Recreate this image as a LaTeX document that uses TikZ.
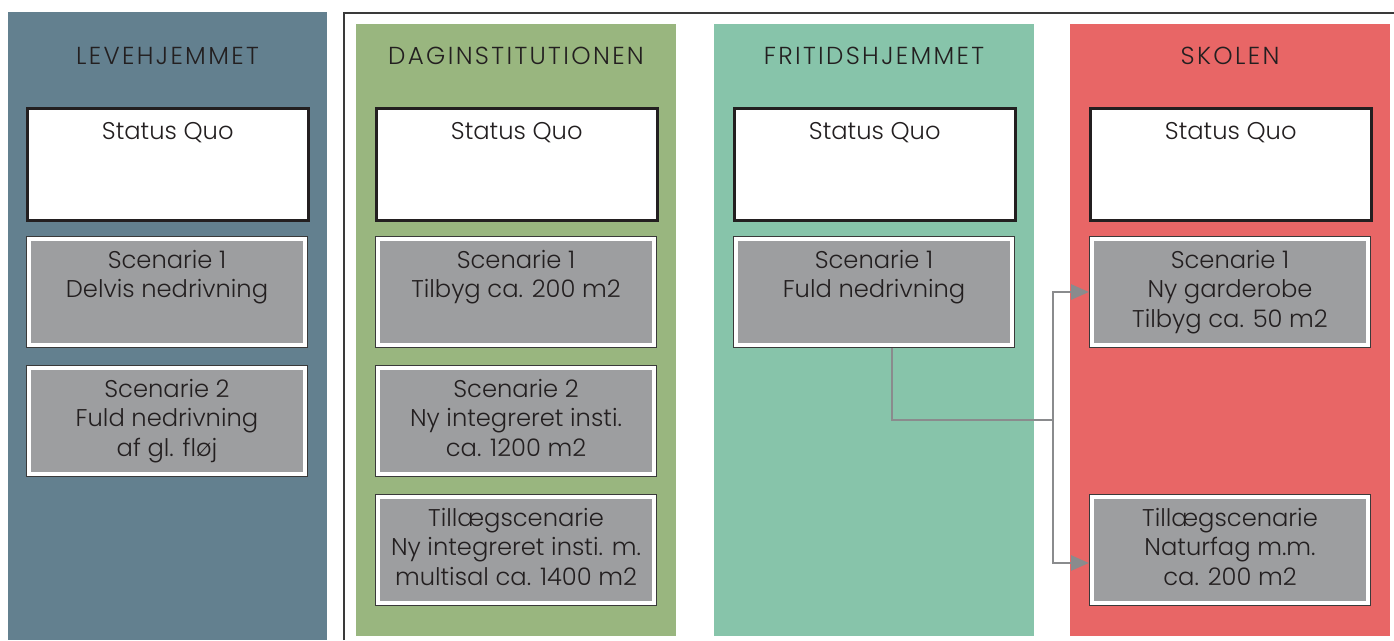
\documentclass[tikz,border=0pt]{standalone}
\usepackage{fontspec}
\IfFontExistsTF{Poppins Light}{\setmainfont{Poppins Light}}{\setmainfont{Poppins}}
\usetikzlibrary{arrows.meta}
\definecolor{ink}{HTML}{231F20}
\definecolor{frame}{HTML}{3A3A3A}
\definecolor{colslate}{HTML}{63808F}
\definecolor{colgreen}{HTML}{99B67F}
\definecolor{colteal}{HTML}{87C4AA}
\definecolor{colred}{HTML}{E86666}
\definecolor{boxgray}{HTML}{9D9EA0}
\definecolor{linkgray}{HTML}{8A8B8D}
\newcommand\boxlines[1]{\begin{tabular}[t]{@{}c@{}}#1\end{tabular}}
\tikzset{
  quo/.style={draw=ink, line width=2.5pt, fill=white, anchor=north west,
    minimum width=281pt, minimum height=112pt, inner sep=0pt},
  scen/.style={draw=frame, line width=1pt, fill=white, anchor=north west,
    minimum width=281pt, minimum height=111pt, inner sep=0pt,
    path picture={\fill[boxgray]
      ([shift={(4.5pt,-4.5pt)}]path picture bounding box.north west) rectangle
      ([shift={(-4.5pt,4.5pt)}]path picture bounding box.south east);}},
  txt/.style={anchor=base, inner sep=0pt, text=ink,
    font=\fontsize{24.2}{29.5}\selectfont},
  head/.style={anchor=base, inner sep=0pt, text=ink,
    font=\fontsize{24.6}{29.5}\selectfont\addfontfeature{LetterSpace=9.5}},
  link/.style={draw=linkgray, line width=2.6pt},
  tip/.style={-{Triangle[length=18pt,width=15pt]}},
}
\begin{document}
\begin{tikzpicture}[x=1pt,y=-1pt]
\useasboundingbox (0,0) rectangle (1394,640);
% column backgrounds
\fill[colslate] (8,12) rectangle (327,640);
\fill[colgreen] (356,24) rectangle (676,636);
\fill[colteal] (714,24) rectangle (1034,636);
\fill[colred] (1070,24) rectangle (1390,636);
% frame round the three right-hand columns
\draw[frame, line width=1.3pt] (344,640) -- (344,13) -- (1394,13);

% column headings
\node[head] (hL) at (167.5,64) {LEVEHJEMMET};
\node[head] (hD) at (516,64) {DAGINSTITUTIONEN};
\node[head] (hF) at (874,64) {FRITIDSHJEMMET};
\node[head] (hS) at (1230,64) {SKOLEN};

% Levehjemmet
\node[quo] (L0) at (26,107) {};
\node[scen] (L1) at (26,236) {};
\node[scen] (L2) at (26,365) {};
% Daginstitutionen
\node[quo] (D0) at (375,107) {};
\node[scen] (D1) at (375,236) {};
\node[scen] (D2) at (375,365) {};
\node[scen] (D3) at (375,494) {};
% Fritidshjemmet
\node[quo] (F0) at (733,107) {};
\node[scen] (F1) at (733,236) {};
% Skolen
\node[quo] (S0) at (1089,107) {};
\node[scen] (S1) at (1089,236) {};
\node[scen] (S3) at (1089,494) {};

% box texts
\foreach \b in {L0,D0,F0,S0}
  \node[txt] at ([yshift=-32pt]\b.north) {Status Quo};
\node[txt] at ([yshift=-32pt]L1.north) {\boxlines{Scenarie 1\\Delvis nedrivning}};
\node[txt] at ([yshift=-32pt]L2.north) {\boxlines{Scenarie 2\\Fuld nedrivning\\af gl. fløj}};
\node[txt] at ([yshift=-32pt]D1.north) {\boxlines{Scenarie 1\\Tilbyg ca. 200 m2}};
\node[txt] at ([yshift=-32pt]D2.north) {\boxlines{Scenarie 2\\Ny integreret insti.\\ca. 1200 m2}};
\node[txt] at ([yshift=-32pt]D3.north) {\boxlines{Tillægscenarie\\Ny integreret insti. m.\\multisal ca. 1400 m2}};
\node[txt] at ([yshift=-32pt]F1.north) {\boxlines{Scenarie 1\\Fuld nedrivning}};
\node[txt] at ([yshift=-32pt]S1.north) {\boxlines{Scenarie 1\\Ny garderobe\\Tilbyg ca. 50 m2}};
\node[txt] at ([yshift=-32pt]S3.north) {\boxlines{Tillægscenarie\\Naturfag m.m.\\ca. 200 m2}};

% connector from Fritidshjemmet to Skolen
\coordinate (fork) at (1053,420);
\draw[link] ([xshift=18pt]F1.south) |- (fork);
\draw[link, tip] (fork) |- (S1.west);
\draw[link, tip] (fork) |- ([yshift=-13pt]S3.west);
\end{tikzpicture}
\end{document}
